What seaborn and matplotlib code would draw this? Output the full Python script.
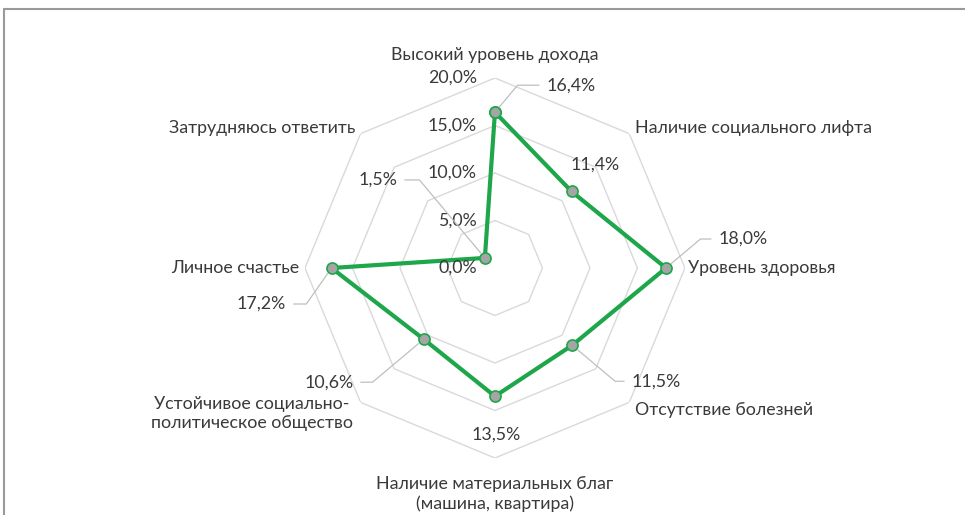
import numpy as np
import pandas as pd
import matplotlib
matplotlib.use("Agg")
import matplotlib.pyplot as plt
from matplotlib.lines import Line2D
import seaborn as sns

categories = [
    "Высокий уровень дохода",
    "Наличие социального лифта",
    "Уровень здоровья",
    "Отсутствие болезней",
    "Наличие материальных благ\n(машина, квартира)",
    "Устойчивое социально-\nполитическое общество",
    "Личное счастье",
    "Затрудняюсь ответить",
]
values = [16.4, 11.4, 18.0, 11.5, 13.5, 10.6, 17.2, 1.5]
value_labels = ["16,4%", "11,4%", "18,0%", "11,5%", "13,5%", "10,6%", "17,2%", "1,5%"]
r_ticks = [0, 5, 10, 15, 20]
r_tick_labels = ["0,0%", "5,0%", "10,0%", "15,0%", "20,0%"]

sns.set_theme(style="white")
plt.rcParams["font.family"] = ["Lato", "DejaVu Sans"]
TXT = "#3A3A3A"
GREEN = "#1EA64A"
GRID = "#D9D9D9"
FS = 12.8

n = len(categories)
angles = np.arange(n) * 2 * np.pi / n
df = pd.DataFrame({"theta": np.append(angles, 2 * np.pi),
                   "value": values + values[:1]})

fig = plt.figure(figsize=(9.65, 5.15), dpi=100)
ax = fig.add_axes([0.316, 0.1106, 0.3938, 0.738], projection="polar")
ax.set_theta_zero_location("N")
ax.set_theta_direction(-1)
ax.set_ylim(0, 20)
ax.grid(False)
ax.spines["polar"].set_visible(False)
ax.set_xticks([])
ax.set_yticks([])

# octagonal grid
for r in r_ticks[1:]:
    ax.plot(np.append(angles, 2 * np.pi), [r] * (n + 1), color=GRID, lw=1.0, zorder=1)

sns.lineplot(data=df, x="theta", y="value", sort=False, ax=ax, color=GREEN,
             lw=3.0, marker="o", markersize=8, markerfacecolor="#A5A5A5",
             markeredgecolor=GREEN, markeredgewidth=1.2, zorder=3)
ax.set_xlabel("")
ax.set_ylabel("")

# radial tick labels
for r, lab in zip(r_ticks, r_tick_labels):
    ax.annotate(lab, xy=(0, r), xytext=(-18, 0), textcoords="offset pixels",
                ha="right", va="center", fontsize=FS, color=TXT)

# category labels: offset (px) from outer vertex, alignment
cat_pos = [((0, 23), "center"), ((6, 6), "left"), ((3, 0), "left"), ((6, -8), "left"),
           ((0, -36), "center"), ((-8, -11), "right"), ((-6, 0), "right"), ((-5, 6), "right")]
for ang, cat, (off, ha) in zip(angles, categories, cat_pos):
    ax.annotate(cat, xy=(ang, 20), xytext=off, textcoords="offset pixels",
                ha=ha, va="center", fontsize=FS, color=TXT,
                multialignment="center", linespacing=1.2, annotation_clip=False)

# data labels with leader lines
lab_pos = [((76, 27), 50), ((24, 27), None), ((77, 29), 40), ((84, -36), -40),
           ((1, -38), None), ((-95, -43), 40), ((-70, -36), 55), ((-107, 78), -50)]
for ang, v, lab, (off, lead) in zip(angles, values, value_labels, lab_pos):
    kw = {}
    if lead is not None:
        kw["arrowprops"] = dict(arrowstyle="-", color="#BFBFBF", lw=0.9,
                                shrinkA=3, shrinkB=5,
                                connectionstyle=f"angle,angleA=0,angleB={lead},rad=0")
    ax.annotate(lab, xy=(ang, v), xytext=off, textcoords="offset pixels",
                ha="center", va="center", fontsize=FS, color=TXT,
                annotation_clip=False, **kw)

# chart frame (top and left edges visible in the crop)
fig.add_artist(Line2D([0.004, 1.0], [0.9825, 0.9825], transform=fig.transFigure,
                      color="#9A9A9A", lw=1.5))
fig.add_artist(Line2D([0.004, 0.004], [0.0, 0.9825], transform=fig.transFigure,
                      color="#9A9A9A", lw=1.5))

fig.savefig("out.png", dpi=100, facecolor="white")
